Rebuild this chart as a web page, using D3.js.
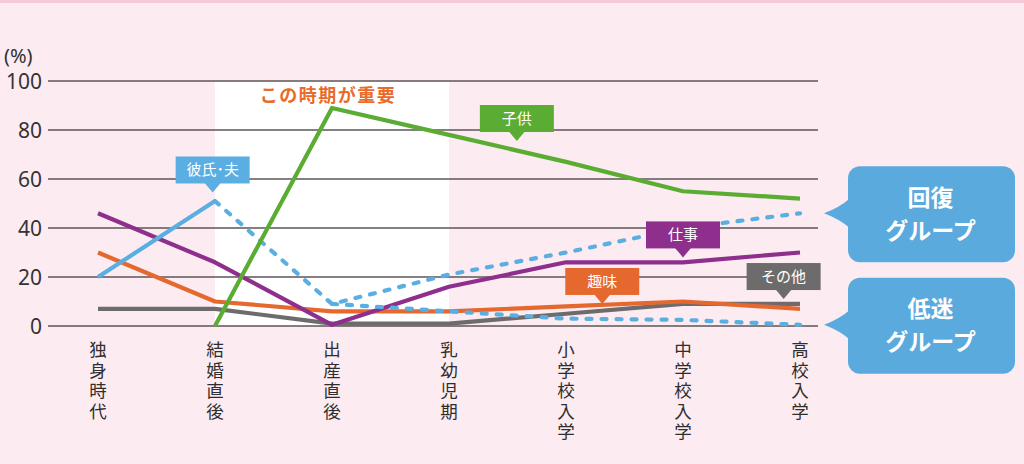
<!DOCTYPE html>
<html><head><meta charset="utf-8">
<script src="https://cdn.jsdelivr.net/npm/d3@7"></script>
<style>
html,body{margin:0;padding:0;background:#fcecf2;}
svg{display:block;font-family:"Noto Sans CJK JP","Noto Sans",sans-serif;}
</style></head>
<body><svg id="c" width="1024" height="464"></svg>
<script>
const categories = ["独身時代","結婚直後","出産直後","乳幼児期","小学校入学","中学校入学","高校入学"];
const yTicks = [0,20,40,60,80,100];
const kodomo   = [null, 0, 89, 78, 67, 55, 52];
const shigoto  = [46, 26, 0.5, 16, 26, 26, 30];
const shumi    = [30, 10, 6, 6, 8, 10, 7];
const sonota   = [7, 7, 1, 1, 5, 9, 9];
const kareshi  = [20, 51, null, null, null, null, null];
const kaifuku  = [null, 51, 9, 21, 30, 40, 46];
const teimei   = [null, null, 9, 6, 3, 2.5, 0.5];

const svg = d3.select("#c");
const W = 1024, H = 464;

// background
svg.append("rect").attr("width",W).attr("height",H).attr("fill","#fcecf2");
svg.append("rect").attr("width",W).attr("height",3).attr("fill","#f6c9d6");

const x = d3.scalePoint().domain(categories).range([98, 800]);
const xi = d3.scaleLinear().domain([0, categories.length-1]).range([98, 800]);
const y = d3.scaleLinear().domain([0,100]).range([326, 81]);

// highlight period
svg.append("rect")
  .attr("x", x("結婚直後")).attr("y", y(100))
  .attr("width", x("乳幼児期") - x("結婚直後")).attr("height", y(0) - y(100))
  .attr("fill", "#ffffff");

// gridlines
svg.append("g").selectAll("line").data(yTicks).join("line")
  .attr("x1", 48).attr("x2", 818)
  .attr("y1", d => y(d)).attr("y2", d => y(d))
  .attr("stroke", "#5e5557").attr("stroke-width", 1.6);

// y tick labels
svg.append("g").selectAll("text").data(yTicks).join("text")
  .attr("x", 42).attr("y", d => y(d)).attr("dy", "0.36em")
  .attr("text-anchor", "end").attr("font-size", 21).attr("fill", "#333")
  .attr("font-family", "'Noto Sans','Open Sans',sans-serif")
  .text(d => d);
svg.append("text").attr("x", 4).attr("y", 63).attr("font-size", 20).attr("fill","#333")
  .attr("font-family", "'Noto Sans',sans-serif").text("(%)");

// x labels vertical
svg.append("g").selectAll("text").data(categories).join("text")
  .attr("x", d => x(d)).attr("y", 341)
  .attr("font-size", 17.5).attr("fill", "#2e2e2e")
  .style("writing-mode", "vertical-rl")
  .style("text-orientation", "upright")
  .attr("letter-spacing", 3)
  .text(d => d);

// title
svg.append("text").attr("x", 328).attr("y", 102).attr("text-anchor","middle")
  .attr("font-size", 18).attr("font-weight", "bold").attr("letter-spacing", 1.5)
  .attr("fill", "#ea6a2a").text("この時期が重要");

const line = d3.line().defined(d => d[1] != null).x(d => xi(d[0])).y(d => y(d[1]));
function draw(vals, color, dashed){
  const pts = vals.map((v,i) => [i, v]);
  svg.append("path").attr("d", line(pts)).attr("fill","none")
    .attr("stroke", color).attr("stroke-width", 4.2)
    .attr("stroke-linejoin", "round")
    .attr("stroke-linecap", dashed ? "round" : "butt")
    .attr("stroke-dasharray", dashed ? "5 10" : null);
}
draw(sonota, "#6e6b6c");
draw(shumi, "#e5692f");
draw(shigoto, "#8e2f8d");
draw(teimei, "#5aaee2", true);
draw(kaifuku, "#5aaee2", true);
draw(kareshi, "#5aaee2");
draw(kodomo, "#5aac33");

// label boxes
const labels = [
  {text:"彼氏･夫", color:"#5aaee2", xi:0.98, yv:54.5},
  {text:"子供",   color:"#5aac33", xi:3.58, yv:75.5},
  {text:"仕事",   color:"#8e2f8d", xi:5.0,  yv:28},
  {text:"趣味",   color:"#e5692f", xi:4.31, yv:9},
  {text:"その他", color:"#6e6b6c", xi:5.86, yv:11}
];
const bw = 74, bh = 27, ph = 9;
labels.forEach(l => {
  const tx = xi(l.xi), ty = y(l.yv);
  const g = svg.append("g");
  const top = ty - ph - bh;
  g.append("rect").attr("x", tx - bw/2).attr("y", top).attr("width", bw).attr("height", bh).attr("fill", l.color);
  g.append("path").attr("d", `M${tx-8},${ty-ph-0.5} L${tx},${ty} L${tx+8},${ty-ph-0.5} Z`).attr("fill", l.color);
  g.append("text").attr("x", tx).attr("y", top + bh/2).attr("dy","0.36em").attr("text-anchor","middle")
    .attr("font-size", 15).attr("fill", "#fff").text(l.text);
});

// group callouts
const groups = [
  {lines:["回復","グループ"], tipV: kaifuku[6]},
  {lines:["低迷","グループ"], tipV: teimei[6]}
];
const gx = 848, gw = 167, gh = 96;
groups.forEach(gr => {
  const tipY = y(gr.tipV);
  const ty = tipY;
  const top = tipY - 47;
  const g = svg.append("g");
  g.append("rect").attr("x", gx).attr("y", top).attr("width", gw).attr("height", gh).attr("rx", 12).attr("fill", "#5aaade");
  g.append("path").attr("d", `M${gx+2},${ty-15} Q${gx-8},${ty-6} 824,${ty} Q${gx-8},${ty+6} ${gx+2},${ty+15} Z`).attr("fill", "#5aaade");
  gr.lines.forEach((t,i) => {
    g.append("text").attr("x", gx + gw/2 - 1).attr("y", top + 31 + i*33).attr("dy","0.36em")
      .attr("text-anchor","middle").attr("font-size", 23).attr("font-weight", "bold")
      .attr("fill", "#fff").text(t);
  });
});
</script></body></html>
